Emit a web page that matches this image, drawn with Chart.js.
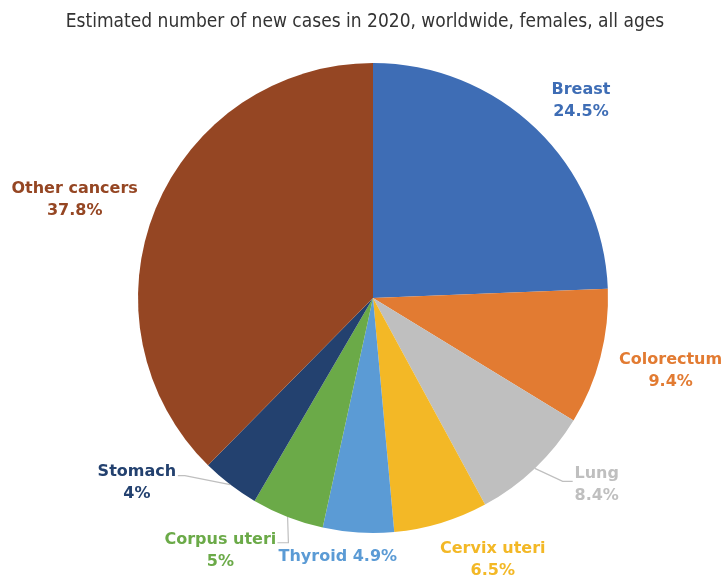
<!DOCTYPE html>
<html>
<head>
<meta charset="utf-8">
<script src="https://cdn.jsdelivr.net/npm/chart.js@4"></script>
<style>
  html, body { margin: 0; padding: 0; background: #fff; }
  #wrap { width: 723px; height: 577px; }
</style>
</head>
<body>
<div id="wrap"><canvas id="myChart"></canvas></div>
<script>
const titleText = "Estimated number of new cases in 2020, worldwide, females, all ages";
const categories = ["Breast", "Colorectum", "Lung", "Cervix uteri", "Thyroid", "Corpus uteri", "Stomach", "Other cancers"];
const percents = [24.5, 9.4, 8.4, 6.5, 4.9, 5, 4, 37.8];
const colors = ["#3E6DB5", "#E27B32", "#BFBFBF", "#F3B826", "#5B9BD5", "#6BAA48", "#23416F", "#954623"];
// thyroid is written on one line in the original
const oneLine = [false, false, false, false, true, false, false, false];

// the built-in title gets squeezed into the padded box, so draw it here
const topTitle = {
  id: "topTitle",
  afterDraw(chart, args, opts) {
    const ctx = chart.ctx;
    ctx.save();
    ctx.font = opts.font;
    ctx.fillStyle = opts.color;
    ctx.textAlign = "center";
    ctx.textBaseline = "middle";
    ctx.fillText(opts.text, opts.x, opts.y);
    ctx.restore();
  }
};

const sliceLabels = {
  id: "sliceLabels",
  afterDatasetsDraw(chart, args, opts) {
    const ctx = chart.ctx;
    const meta = chart.getDatasetMeta(0);
    ctx.save();
    ctx.font = "bold 16px 'DejaVu Sans'";
    ctx.textAlign = "center";
    ctx.textBaseline = "middle";
    meta.data.forEach((arc, i) => {
      const p = arc.getProps(["x", "y", "startAngle", "endAngle", "outerRadius"], true);
      const mid = (p.startAngle + p.endAngle) / 2;
      const r = p.outerRadius + opts.gaps[i];
      const nudge = opts.nudge[i];
      const cx = p.x + Math.cos(mid) * r + nudge[0];
      const cy = p.y + Math.sin(mid) * r + nudge[1];

      // leader lines
      const ld = opts.leaders[i];
      if (ld) {
        const ex = p.x + Math.cos(mid) * p.outerRadius;
        const ey = p.y + Math.sin(mid) * p.outerRadius;
        const tx = cx + ld.dx, ty = cy + ld.dy;
        ctx.strokeStyle = "#BFBFBF";
        ctx.lineWidth = 1.2;
        ctx.beginPath();
        ctx.moveTo(ex, ey);
        ctx.lineTo(tx + ld.elbow, ty);
        ctx.lineTo(tx, ty);
        ctx.stroke();
      }

      ctx.fillStyle = colors[i];
      const pct = percents[i] + "%";
      if (oneLine[i]) {
        ctx.fillText(categories[i] + " " + pct, cx, cy);
      } else {
        ctx.fillText(categories[i], cx, cy - 11);
        ctx.fillText(pct, cx, cy + 11);
      }
    });
    ctx.restore();
  }
};

const ctx = document.getElementById("myChart");
const chart = new Chart(ctx, {
  type: "pie",
  data: {
    labels: categories,
    datasets: [
      {
        data: percents,
        backgroundColor: colors,
        borderWidth: 0,
      },
    ],
  },
  options: {
    responsive: true,
    maintainAspectRatio: false,
    animation: false,
    layout: {
      padding: { top: 63, bottom: 44, left: 138, right: 115 },
    },
    plugins: {
      legend: { display: false },
      tooltip: { enabled: false },
      title: { display: false },
      topTitle: {
        text: titleText,
        font: "19px 'DejaVu Sans Condensed', 'DejaVu Sans'",
        color: "#333333",
        x: 365,
        y: 22,
      },
      sliceLabels: {
        gaps: [52, 56, 55, 44, 24, 61, 63, 68],
        nudge: [[9, 10], [16, 0], [24, -23], [39, -5], [-19, 0], [-45, -23], [-55, -52], [-18, 17]],
        leaders: {
          2: { dx: -24, dy: -4, elbow: -10 },
          5: { dx: 57, dy: -8, elbow: 11 },
          6: { dx: 41, dy: -7, elbow: 7 },
        },
      },
    },
  },
  plugins: [sliceLabels, topTitle],
});
</script>
</body>
</html>
